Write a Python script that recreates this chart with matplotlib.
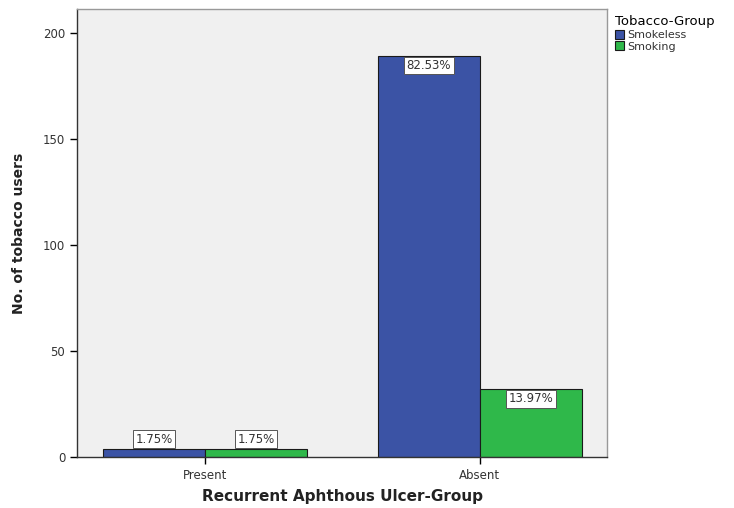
import numpy as np
import matplotlib
matplotlib.use("Agg")
import matplotlib.pyplot as plt

# data
groups = ["Present", "Absent"]
series = ["Smokeless", "Smoking"]
smokeless = [4, 189]
smoking = [4, 32]
labels_smokeless = ["1.75%", "82.53%"]
labels_smoking = ["1.75%", "13.97%"]
colors = ["#3b53a5", "#2fb84a"]

fig = plt.figure(figsize=(7.34, 5.08), dpi=100)
ax = fig.add_axes([0.105, 0.100, 0.722, 0.882])
ax.set_facecolor("#f0f0f0")

x = np.arange(len(groups))
w = 0.371
box = dict(boxstyle="square,pad=0.2", fc="white", ec="#555555", lw=0.7)

for off, vals, labs, col, name in [(-w / 2, smokeless, labels_smokeless, colors[0], series[0]),
                                   (w / 2, smoking, labels_smoking, colors[1], series[1])]:
    bars = ax.bar(x + off, vals, width=w, color=col, edgecolor="#1a1a1a", lw=0.8, label=name)
    for b, v, t in zip(bars, vals, labs):
        cx = b.get_x() + b.get_width() / 2
        if v < 20:
            ax.text(cx, v + 1.5, t, ha="center", va="bottom", fontsize=8.5, color="#333333", bbox=box)
        else:
            ax.text(cx, v - 1.5, t, ha="center", va="top", fontsize=8.5, color="#333333", bbox=box)

ax.set_xlim(-0.465, 1.462)
ax.set_ylim(0, 211)
ax.set_yticks([0, 50, 100, 150, 200])
ax.set_xticks(x)
ax.set_xticklabels(groups)
ax.tick_params(axis="both", labelsize=8.5, labelcolor="#333333", direction="out", length=5, width=1)

for s in ax.spines.values():
    s.set_color("#333333")
    s.set_linewidth(1)
ax.spines["top"].set_color("#999999")
ax.spines["right"].set_color("#999999")

ax.set_ylabel("No. of tobacco users", fontsize=10, fontweight="bold", color="#222222", labelpad=12)
ax.set_xlabel("Recurrent Aphthous Ulcer-Group", fontsize=11, fontweight="bold", color="#222222", labelpad=5)

leg = fig.legend(title="Tobacco-Group", loc="upper left", bbox_to_anchor=(0.827, 0.985),
                 frameon=False, fontsize=8, title_fontsize=9.5, handlelength=0.8, handleheight=0.9,
                 handletextpad=0.3, labelspacing=0.1, borderpad=0.2)
leg._legend_box.align = "left"
for t in leg.get_texts():
    t.set_color("#333333")

fig.savefig("out.png", dpi=100)
